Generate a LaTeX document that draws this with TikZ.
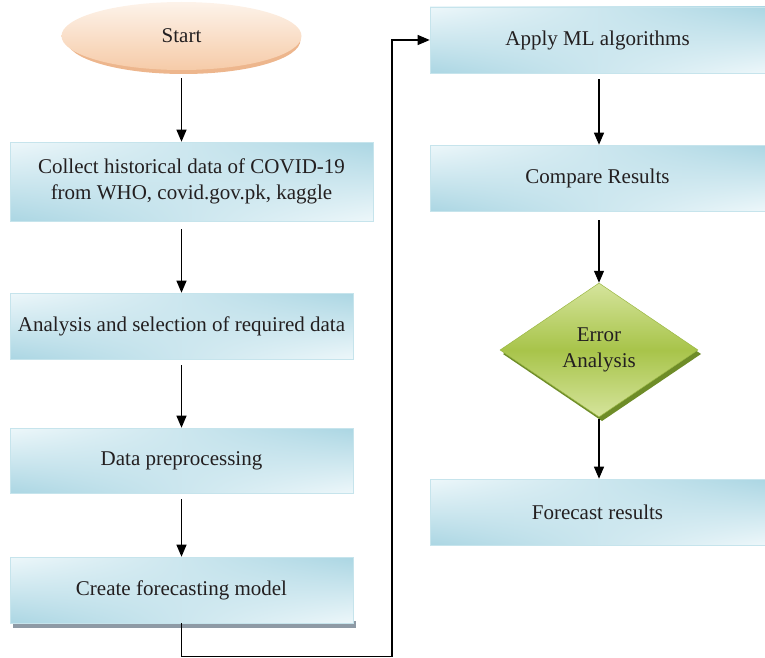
\documentclass[tikz,border=0pt]{standalone}
\usepackage{fontspec}
\setmainfont{Liberation Serif}
\usetikzlibrary{shapes.geometric,arrows.meta,calc,shadings}
\definecolor{boxblue}{HTML}{ABD6E3}
\definecolor{boxlight}{HTML}{EDF7FA}
\definecolor{boxedge}{HTML}{C6E4EC}
\definecolor{peachtop}{HTML}{FDF3EA}
\definecolor{peachbot}{HTML}{F6CBA8}
\definecolor{peachshadow}{HTML}{EDB68D}
\definecolor{greenlight}{HTML}{D5E49C}
\definecolor{greenmid}{HTML}{A8C44A}
\definecolor{greenedge}{HTML}{9BB844}
\definecolor{greenshadow}{HTML}{6E8C28}
\definecolor{barshadow}{HTML}{8E9AA5}
\definecolor{txt}{HTML}{231F20}
\tikzset{
  flowbox/.style={rectangle, draw=boxedge, line width=0.6pt, shade,
    upper left=boxlight, upper right=boxblue, lower left=boxblue, lower right=boxlight,
    inner sep=0pt, align=center, text=txt, font=\fontsize{21}{26}\selectfont},
  startshape/.style={ellipse, draw=none, top color=peachtop, bottom color=peachbot,
    inner sep=0pt, text=txt, font=\fontsize{21}{26}\selectfont,
    minimum width=240pt, minimum height=68pt},
  decshape/.style={diamond, draw=greenedge, line width=0.5pt, shade,
    top color=greenlight, bottom color=greenlight, middle color=greenmid,
    inner sep=0pt, aspect=1.48, align=center, text=txt,
    font=\fontsize{21}{26}\selectfont, minimum width=198pt, minimum height=134pt},
  arr/.style={-{Triangle[length=12pt,width=10pt]}, line width=1.2pt, black},
}
\begin{document}
\begin{tikzpicture}[x=1pt,y=-1pt]
\useasboundingbox (0,0) rectangle (765,658);
% shadows
\fill[peachshadow] (183.5,40) ellipse [x radius=117pt, y radius=34pt];
\fill[greenshadow] (602,287) -- (701,354) -- (602,421) -- (503,354) -- cycle;
% left column
\node[startshape] (start) at (181.5,36) {Start};
\node[flowbox, minimum width=363pt, minimum height=79pt] (collect) at (191.5,181.5)
  {Collect historical data of COVID-19\\from WHO, covid.gov.pk, kaggle};
\node[flowbox, minimum width=343pt, minimum height=66pt] (analysis) at (181.5,326)
  {Analysis and selection of required data};
\node[flowbox, minimum width=343pt, minimum height=65pt] (prep) at (181.5,460.5)
  {Data preprocessing};
\fill[barshadow] (13,621) rectangle (356,628);
\node[flowbox, minimum width=343pt, minimum height=66pt] (create) at (181.5,590)
  {Create forecasting model};
% right column
\node[flowbox, minimum width=335pt, minimum height=66pt] (apply) at (597.5,40)
  {Apply ML algorithms};
\node[flowbox, minimum width=335pt, minimum height=66pt] (compare) at (597.5,178)
  {Compare Results};
\node[decshape] (error) at (599,350) {Error\\Analysis};
\node[flowbox, minimum width=335pt, minimum height=66pt] (forecast) at (597.5,512)
  {Forecast results};
% connectors
\draw[arr, shorten <=8pt] (start.south) -- (start.south |- collect.north);
\draw[arr, shorten <=8pt] (collect.south -| analysis.north) -- (analysis.north);
\draw[arr, shorten <=6pt] (analysis.south) -- (prep.north);
\draw[arr, shorten <=6pt] (prep.south) -- (create.north);
\coordinate (c1) at (181.5,656.5);
\coordinate (c2) at (392,656.5);
\draw[arr] (create.south) -- (c1) -- (c2) |- (apply.west);
\draw[arr, shorten <=6pt] (apply.south -| error.north) -- (compare.north -| error.north);
\draw[arr, shorten <=9pt] (compare.south -| error.north) -- (error.north);
\draw[arr, shorten <=2pt] (error.south) -- (forecast.north -| error.south);
\end{tikzpicture}
\end{document}
